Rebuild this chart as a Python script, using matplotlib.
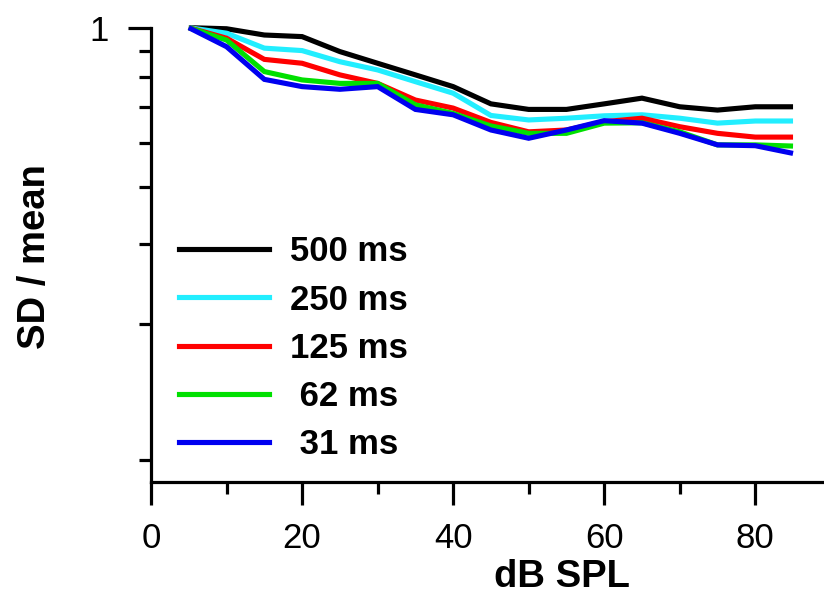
import numpy as np
import matplotlib
matplotlib.use("Agg")
import matplotlib.pyplot as plt
from matplotlib.lines import Line2D

# ---- data ----
db_spl = [5, 10, 15, 20, 25, 30, 35, 40, 45, 50, 55, 60, 65, 70, 75, 80, 85]
sd_500 = [1.000, 0.995, 0.967, 0.960, 0.897, 0.851, 0.808, 0.767, 0.711, 0.694, 0.694, 0.711, 0.729, 0.702, 0.692, 0.702, 0.702]
sd_250 = [1.000, 0.975, 0.911, 0.901, 0.857, 0.826, 0.784, 0.745, 0.676, 0.663, 0.668, 0.675, 0.678, 0.668, 0.654, 0.660, 0.660]
sd_125 = [1.000, 0.953, 0.866, 0.851, 0.808, 0.778, 0.723, 0.698, 0.656, 0.630, 0.635, 0.658, 0.668, 0.644, 0.626, 0.616, 0.616]
sd_62 = [1.000, 0.945, 0.820, 0.790, 0.778, 0.778, 0.708, 0.682, 0.646, 0.626, 0.626, 0.654, 0.655, 0.630, 0.596, 0.596, 0.593]
sd_31 = [1.000, 0.917, 0.792, 0.767, 0.758, 0.767, 0.694, 0.678, 0.635, 0.613, 0.635, 0.661, 0.654, 0.626, 0.596, 0.594, 0.575]

series_labels = ["500 ms", "250 ms", "125 ms", " 62 ms", " 31 ms"]
series_values = [sd_500, sd_250, sd_125, sd_62, sd_31]
series_colors = ["#000000", "#22EEFF", "#FF0000", "#00E000", "#0000F0"]

x_ticks = [0, 20, 40, 60, 80]
x_minor = [10, 30, 50, 70]
y_major = [1.0]
y_major_labels = ["1"]
y_minor = [0.9, 0.8, 0.7, 0.6, 0.5, 0.4, 0.3, 0.2]

# ---- figure ----
plt.rcParams["font.family"] = ["Liberation Sans", "DejaVu Sans"]
fig = plt.figure(figsize=(8.24, 6.04), dpi=100)
ax = fig.add_axes([0.1833, 0.2020, 0.8167, 0.7522])

OFF = 0.1
def fwd(v):
    v = np.asarray(v, dtype=float)
    return np.log10(np.clip(v - OFF, 1e-9, None))
def inv(u):
    return 10.0 ** np.asarray(u, dtype=float) + OFF

ax.set_yscale("function", functions=(fwd, inv))

for vals, col in zip(series_values, series_colors):
    ax.plot(db_spl, vals, color=col, lw=3.7, solid_joinstyle="miter",
            solid_capstyle="butt", clip_on=False)

ax.set_xlim(0, 89.1)
ax.set_ylim(0.1894, 1.0)

ax.set_xticks(x_ticks)
ax.set_xticks(x_minor, minor=True)
ax.set_yticks(y_major)
ax.set_yticklabels(y_major_labels)
ax.set_yticks(y_minor, minor=True)
ax.yaxis.set_minor_formatter(plt.NullFormatter())

for s in ["top", "right"]:
    ax.spines[s].set_visible(False)
for s in ["left", "bottom"]:
    ax.spines[s].set_linewidth(2.3)

ax.tick_params(axis="both", which="major", length=16.5, width=2.3,
               labelsize=25, direction="out")
ax.tick_params(axis="both", which="minor", length=8.6, width=2.3,
               direction="out")
ax.tick_params(axis="x", which="major", pad=12)
ax.tick_params(axis="y", which="major", pad=14)

ax.set_xlabel("dB SPL", fontsize=27.5, fontweight="bold")
ax.set_ylabel("SD / mean", fontsize=27.5, fontweight="bold")
ax.xaxis.set_label_coords(0.611, -0.170)
ax.yaxis.set_label_coords(-0.146, 0.497)

handles = [Line2D([], [], color=c, lw=3.7) for c in series_colors]
leg = ax.legend(handles, series_labels, loc="upper left",
                bbox_to_anchor=(0.041, 0.543), frameon=False,
                prop={"family": ["Liberation Sans"], "weight": "bold", "size": 25},
                handlelength=2.6, handletextpad=0.62, labelspacing=0.44,
                borderaxespad=0, borderpad=0)

fig.savefig("out.png", dpi=100)
